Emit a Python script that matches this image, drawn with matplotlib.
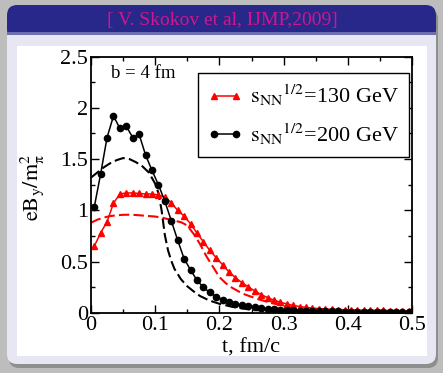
import matplotlib
matplotlib.use("Agg")
import matplotlib.pyplot as plt
from matplotlib.patches import FancyBboxPatch, Rectangle
from matplotlib.ticker import MultipleLocator

plt.rcParams['font.family'] = ['Liberation Serif', 'DejaVu Serif']
plt.rcParams['mathtext.fontset'] = 'stix'

# sample times of the marked curves (fm/c)
t_pts = [0.005, 0.015, 0.025, 0.035, 0.045, 0.055, 0.065, 0.075, 0.085, 0.095,
         0.105, 0.115, 0.125, 0.135, 0.145, 0.155, 0.165, 0.175, 0.185, 0.195,
         0.205, 0.215, 0.225, 0.235, 0.245, 0.255, 0.265, 0.275, 0.285, 0.295,
         0.305, 0.315, 0.325, 0.335, 0.345, 0.355, 0.365, 0.375, 0.385, 0.395,
         0.405, 0.415, 0.425, 0.435, 0.445, 0.455, 0.465, 0.475, 0.485, 0.495]

# sqrt(s_NN) = 200 GeV, black circles
b200 = [1.03, 1.355, 1.71, 1.92, 1.80, 1.82, 1.71, 1.74, 1.54, 1.39,
        1.25, 1.09, 0.90, 0.71, 0.53, 0.42, 0.32, 0.25, 0.20, 0.16,
        0.13, 0.107, 0.088, 0.075, 0.065, 0.056, 0.048, 0.042, 0.037, 0.033,
        0.030, 0.027, 0.024, 0.022, 0.020, 0.019, 0.017, 0.016, 0.015, 0.014,
        0.013, 0.012, 0.012, 0.011, 0.011, 0.010, 0.010, 0.009, 0.009, 0.009]

# sqrt(s_NN) = 130 GeV, red triangles
b130 = [0.65, 0.78, 0.89, 1.07, 1.16, 1.17, 1.17, 1.165, 1.16, 1.16,
        1.15, 1.13, 1.075, 1.0, 0.945, 0.87, 0.78, 0.695, 0.61, 0.54,
        0.47, 0.40, 0.345, 0.295, 0.255, 0.215, 0.18, 0.15, 0.125, 0.105,
        0.088, 0.074, 0.063, 0.055, 0.048, 0.043, 0.039, 0.036, 0.034, 0.032,
        0.030, 0.029, 0.028, 0.027, 0.026, 0.025, 0.024, 0.023, 0.022, 0.021]

# dashed curves
t_dash_k = [0, 0.01, 0.02, 0.03, 0.04, 0.05, 0.06, 0.07, 0.08, 0.09, 0.1, 0.105,
            0.11, 0.115, 0.12, 0.125, 0.13, 0.14, 0.15, 0.16, 0.17, 0.18, 0.19,
            0.2, 0.22, 0.24, 0.26, 0.28, 0.3, 0.35, 0.4, 0.45, 0.5]
dash_k = [1.32, 1.37, 1.42, 1.46, 1.49, 1.51, 1.50, 1.47, 1.43, 1.37, 1.26, 1.17,
          1.0, 0.76, 0.61, 0.51, 0.43, 0.33, 0.26, 0.21, 0.165, 0.135, 0.11,
          0.09, 0.06, 0.04, 0.027, 0.018, 0.012, 0.006, 0.003, 0.002, 0.001]

t_dash_r = [0, 0.01, 0.02, 0.03, 0.04, 0.05, 0.06, 0.07, 0.08, 0.09, 0.1, 0.11,
            0.12, 0.13, 0.14, 0.145, 0.15, 0.155, 0.16, 0.17, 0.18, 0.19, 0.2,
            0.21, 0.22, 0.23, 0.24, 0.26, 0.28, 0.3, 0.32, 0.35, 0.4, 0.45, 0.5]
dash_r = [0.88, 0.91, 0.93, 0.945, 0.952, 0.957, 0.958, 0.955, 0.95, 0.945, 0.94, 0.93,
          0.915, 0.90, 0.885, 0.87, 0.85, 0.81, 0.77, 0.67, 0.55, 0.45, 0.35,
          0.29, 0.245, 0.21, 0.18, 0.135, 0.10, 0.07, 0.048, 0.027, 0.012, 0.006, 0.003]

W, H = 443, 373
fig = plt.figure(figsize=(W / 100, H / 100), dpi=100)
fig.patch.set_facecolor('#bdbdbd')
px = fig.dpi_scale_trans


def box(x0, y0, x1, y1, color, z, r=0.0):
    # pixel box given from the top-left corner
    if r > 0:
        p = FancyBboxPatch((x0 / 100, (H - y1) / 100), (x1 - x0) / 100, (y1 - y0) / 100,
                           boxstyle=f"round,pad=0,rounding_size={r}",
                           transform=px, facecolor=color, edgecolor='none', zorder=z)
    else:
        p = Rectangle((x0 / 100, (H - y1) / 100), (x1 - x0) / 100, (y1 - y0) / 100,
                      transform=px, facecolor=color, edgecolor='none', zorder=z)
    fig.patches.append(p)


box(9, 9, 438, 368, '#8e8e8e', -10, 0.1)       # shadow
box(7, 5, 436, 364, '#e7e7f3', -9, 0.1)        # frame body
box(7, 5, 436, 40, '#27288a', -8, 0.1)         # title bar
box(7, 32, 436, 35, '#6e6fb0', -7)
box(7, 35, 436, 45, '#e7e7f3', -7)
box(17, 46, 427, 356, 'white', -6)             # white panel

fig.text(222 / W, 1 - 21 / H, "[ V. Skokov et al, IJMP,2009]", ha='center', va='center',
         fontsize=14, color='#d0168c')

ax = fig.add_axes([91 / W, 1 - 313 / H, 321 / W, 256.5 / H])
ax.plot(t_dash_k, dash_k, color='black', lw=1.5, dashes=(5, 2))
ax.plot(t_dash_r, dash_r, color='red', lw=1.5, dashes=(5, 2))
ax.plot(t_pts, b130, color='red', lw=1.1, marker='^', ms=4.5,
        label=r'$\mathrm{s_{NN}}{}^{1/2}$=130 GeV')
ax.plot(t_pts, b200, color='black', lw=1.1, marker='o', ms=4.5,
        label=r'$\mathrm{s_{NN}}{}^{1/2}$=200 GeV')

ax.set_xlim(0, 0.5)
ax.set_ylim(0, 2.5)
ax.set_xticks([0, 0.1, 0.2, 0.3, 0.4, 0.5])
ax.set_xticklabels(['0', '0.1', '0.2', '0.3', '0.4', '0.5'])
ax.set_yticks([0, 0.5, 1, 1.5, 2, 2.5])
ax.set_yticklabels(['0', '0.5', '1', '1.5', '2', '2.5'])
ax.xaxis.set_minor_locator(MultipleLocator(0.05))
ax.yaxis.set_minor_locator(MultipleLocator(0.25))
ax.tick_params(which='both', direction='in', top=True, right=True, labelsize=16, width=1)
ax.tick_params(which='major', length=6, pad=2)
ax.tick_params(which='minor', length=3)
for s in ax.spines.values():
    s.set_linewidth(1.3)

ax.set_xlabel('t, fm/c', fontsize=16, labelpad=3)
ax.set_ylabel(r'$\mathrm{eB_y/m_\pi^2}$', fontsize=16)
ax.yaxis.set_label_coords(-0.14, 0.49)

ax.text(0.062, 0.935, 'b = 4 fm', transform=ax.transAxes, fontsize=13.5, va='center')

leg = ax.legend(loc='upper right', bbox_to_anchor=(0.99, 0.936), borderaxespad=0,
                fontsize=16, frameon=True, fancybox=False, framealpha=1,
                edgecolor='black', handlelength=1.6, handletextpad=0.3,
                borderpad=0.45, labelspacing=0.6, numpoints=2)
leg.get_frame().set_linewidth(1.0)

fig.savefig('out.png', dpi=100, facecolor=fig.get_facecolor())
